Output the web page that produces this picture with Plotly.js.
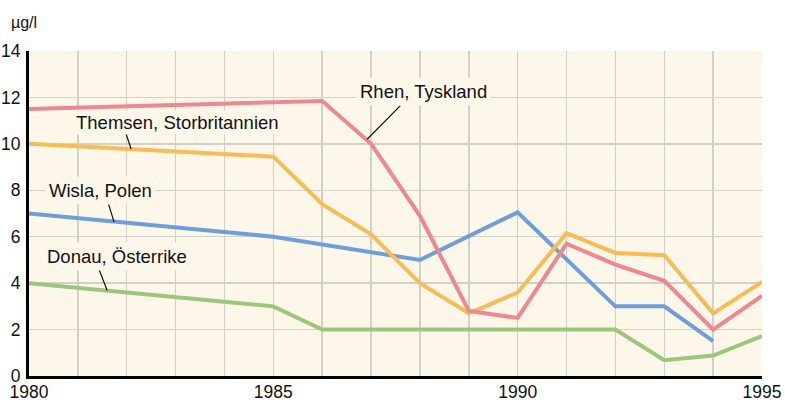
<!DOCTYPE html>
<html>
<head>
<meta charset="utf-8">
<script src="https://cdn.plot.ly/plotly-3.0.1.min.js"></script>
<style>html,body{margin:0;padding:0;background:#fff;}#chart{width:785px;height:402px;}</style>
</head>
<body>
<div id="chart"></div>
<script>
// Data
const rhenYears = [1980, 1986, 1987, 1988, 1989, 1990, 1991, 1992, 1993, 1994, 1995];
const rhenValues = [11.5, 11.85, 10.0, 6.9, 2.8, 2.5, 5.7, 4.8, 4.1, 2.0, 3.45];

const themsenYears = [1980, 1985, 1986, 1987, 1988, 1989, 1990, 1991, 1992, 1993, 1994, 1995];
const themsenValues = [10.0, 9.45, 7.4, 6.1, 4.0, 2.7, 3.6, 6.15, 5.3, 5.2, 2.7, 4.05];

const wislaYears = [1980, 1985, 1988, 1990, 1992, 1993, 1994];
const wislaValues = [7.0, 6.0, 5.0, 7.05, 3.0, 3.0, 1.5];

const donauYears = [1980, 1985, 1986, 1992, 1993, 1994, 1995];
const donauValues = [4.0, 3.0, 2.0, 2.0, 0.68, 0.88, 1.72];

const seriesNames = ["Rhen, Tyskland", "Themsen, Storbritannien", "Wisla, Polen", "Donau, Österrike"];
const xTickVals = [1980, 1985, 1990, 1995];
const xTickText = ["1980", "1985", "1990", "1995"];
const yTickVals = [0, 2, 4, 6, 8, 10, 12, 14];
const unitLabel = "µg/l";

const colors = ["#ef8791", "#f7bc56", "#6e9fd8", "#9bc67c"];
const bg = "#fdf7e9";
const font = "Liberation Sans, Arial, Helvetica, sans-serif";

function line(x, y, c, name) {
  return {x: x, y: y, type: "scatter", mode: "lines", name: name,
          line: {color: c, width: 4}, hoverinfo: "skip"};
}
const traces = [
  line(donauYears, donauValues, colors[3], seriesNames[3]),
  line(wislaYears, wislaValues, colors[2], seriesNames[2]),
  line(themsenYears, themsenValues, colors[1], seriesNames[1]),
  line(rhenYears, rhenValues, colors[0], seriesNames[0])
];

// label placements (layout only)
const labelPos = [
  {x: 1988.08, y: 12.24, pad: 3},
  {x: 1983.03, y: 10.93, pad: 1},
  {x: 1981.46, y: 7.97, pad: 3},
  {x: 1981.81, y: 5.15, pad: 3}
];
const leaderPos = [
  {x0: 1986.92, y0: 10.2, x1: 1987.6, y1: 11.65},
  {x0: 1982.09, y0: 9.78, x1: 1981.98, y1: 10.47},
  {x0: 1981.74, y0: 6.64, x1: 1981.62, y1: 7.46},
  {x0: 1981.6, y0: 3.68, x1: 1981.43, y1: 4.61}
];

const annotations = seriesNames.map((n, i) => ({
  text: n, x: labelPos[i].x, y: labelPos[i].y, xref: "x", yref: "y",
  showarrow: false, xanchor: "center", yanchor: "middle",
  bgcolor: bg, borderpad: labelPos[i].pad,
  font: {family: font, size: 18.5, color: "#111"}
}));
annotations.push({
  text: unitLabel, xref: "paper", yref: "paper", x: -0.027, y: 1.0,
  xanchor: "left", yanchor: "bottom", yshift: 18, showarrow: false,
  font: {family: font, size: 16, color: "#111"}
});

const shapes = leaderPos.map(p => ({
  type: "line", xref: "x", yref: "y", x0: p.x0, y0: p.y0, x1: p.x1, y1: p.y1,
  line: {color: "#111", width: 1.2}, layer: "above"
}));

const layout = {
  width: 785, height: 402,
  margin: {l: 29, r: 23, t: 51, b: 26, pad: 0},
  paper_bgcolor: "#ffffff",
  plot_bgcolor: bg,
  showlegend: false,
  font: {family: font, size: 17.5, color: "#111"},
  xaxis: {
    range: [1980, 1995], tickvals: xTickVals, ticktext: xTickText,
    showgrid: true, gridcolor: "#d2d0ca", gridwidth: 1.5,
    minor: {dtick: 1, showgrid: true, gridcolor: "#d2d0ca", gridwidth: 1.5},
    showline: true, linecolor: "#000", linewidth: 3, zeroline: false,
    ticks: "", tickfont: {family: font, size: 17.5, color: "#111"},
    ticklabelstandoff: -2,
    fixedrange: true
  },
  yaxis: {
    range: [0, 14], tickvals: yTickVals,
    showgrid: true, gridcolor: "#d2d0ca", gridwidth: 1.5,
    showline: true, linecolor: "#000", linewidth: 3, zeroline: false,
    ticks: "", tickfont: {family: font, size: 17.5, color: "#111"},
    ticklabelstandoff: 2,
    fixedrange: true
  },
  annotations: annotations,
  shapes: shapes
};

Plotly.newPlot("chart", traces, layout, {staticPlot: true, displayModeBar: false});
</script>
</body>
</html>
